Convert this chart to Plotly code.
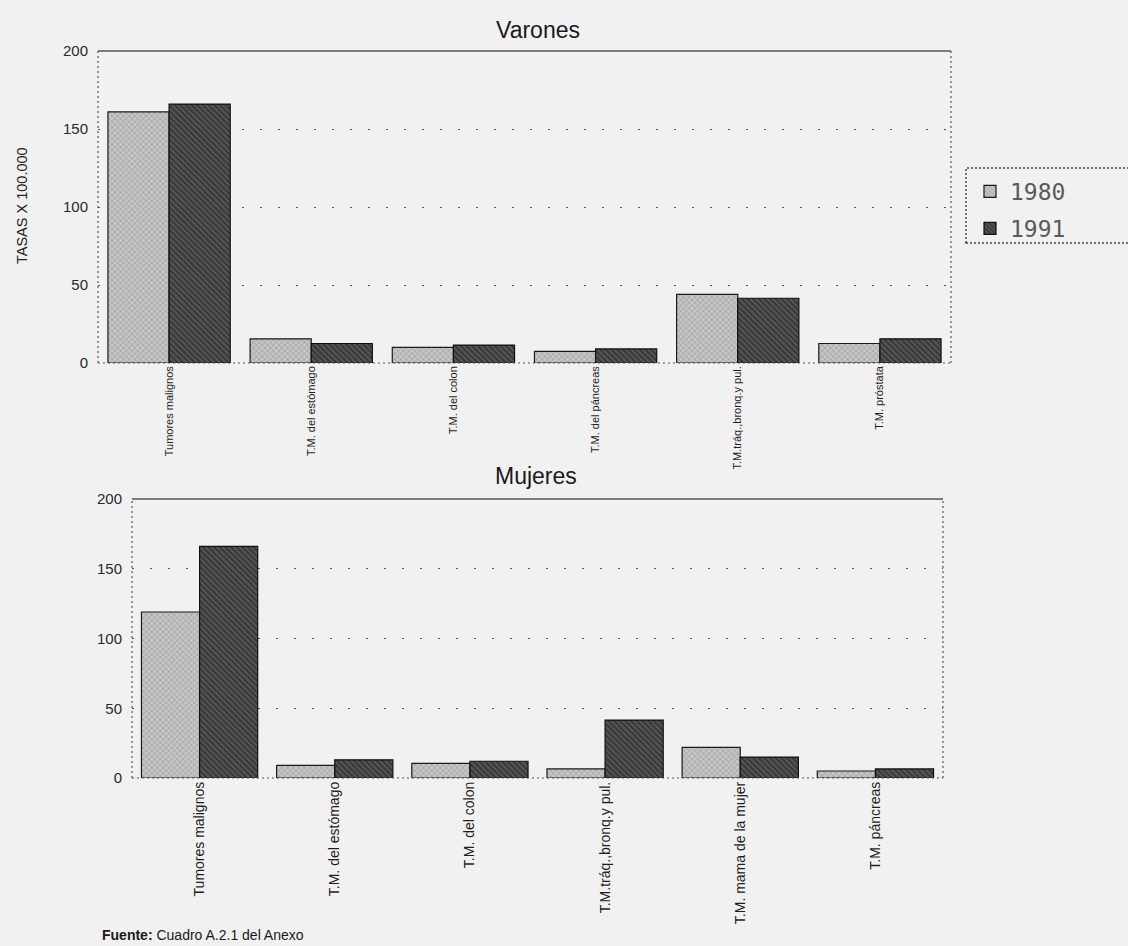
import plotly.graph_objects as go

# ---- data ----
cats_varones = ["Tumores malignos", "T.M. del estómago", "T.M. del colon",
                "T.M. del páncreas", "T.M.tráq.,bronq.y pul.", "T.M. próstata"]
varones_1980 = [161, 15.5, 10, 7.5, 44, 12.5]
varones_1991 = [166, 12.5, 11.5, 9, 41.5, 15.5]

cats_mujeres = ["Tumores malignos", "T.M. del estómago", "T.M. del colon",
                "T.M.tráq.,bronq.y pul.", "T.M. mama de la mujer", "T.M. páncreas"]
mujeres_1980 = [119, 9, 10.5, 6.5, 22, 5]
mujeres_1991 = [166, 13, 12, 41.5, 15, 6.5]

series_names = ["1980", "1991"]
y_ticks = [0, 50, 100, 150, 200]

W, H = 1128, 946
BG = "#f1f1f1"

def px_x(p):
    return p / W

def px_y(p):
    return 1 - p / H

style_1980 = dict(color="#c4c4c4", line=dict(color="#1a1a1a", width=1.2),
                  pattern=dict(shape="x", fgcolor="#5a5a5a", bgcolor="#c6c6c6", size=4, solidity=0.25))
style_1991 = dict(color="#444444", line=dict(color="#111111", width=1.2),
                  pattern=dict(shape="\\", fgcolor="#111111", bgcolor="#555555", size=4, solidity=0.45))

fig = go.Figure()
fig.add_trace(go.Bar(x=cats_varones, y=varones_1980, name=series_names[0], marker=style_1980,
                     xaxis="x", yaxis="y", legendgroup="a"))
fig.add_trace(go.Bar(x=cats_varones, y=varones_1991, name=series_names[1], marker=style_1991,
                     xaxis="x", yaxis="y", legendgroup="b"))
fig.add_trace(go.Bar(x=cats_mujeres, y=mujeres_1980, name=series_names[0], marker=style_1980,
                     xaxis="x2", yaxis="y2", showlegend=False, legendgroup="a"))
fig.add_trace(go.Bar(x=cats_mujeres, y=mujeres_1991, name=series_names[1], marker=style_1991,
                     xaxis="x2", yaxis="y2", showlegend=False, legendgroup="b"))

tickfont_y = dict(family="Liberation Sans", size=15, color="#2a2a2a")
tickfont_x_top = dict(family="Liberation Sans", size=11, color="#1e1e1e")
tickfont_x_bot = dict(family="Liberation Sans", size=14, color="#1e1e1e")

common_x = dict(type="category", showgrid=False, zeroline=False, showline=False,
                tickangle=-90, ticks="", automargin=False, fixedrange=True)
common_y = dict(range=[0, 200], tickvals=y_ticks, showgrid=True, gridcolor="#555555",
                griddash="2px,16px", gridwidth=1, zeroline=False, showline=False,
                tickfont=tickfont_y, ticks="", ticklabelstandoff=9, automargin=False,
                fixedrange=True)

top = dict(x0=98, x1=951, y0=51, y1=363)
bot = dict(x0=132, x1=943, y0=499, y1=778)

fig.update_layout(
    width=W, height=H,
    paper_bgcolor=BG, plot_bgcolor=BG,
    margin=dict(l=0, r=0, t=0, b=0),
    barmode="group", bargap=0.14, bargroupgap=0,
    font=dict(family="Liberation Sans", color="#222222"),
    xaxis=dict(domain=[px_x(top["x0"]), px_x(top["x1"])], anchor="y",
               tickfont=tickfont_x_top, **common_x),
    yaxis=dict(domain=[px_y(top["y1"]), px_y(top["y0"])], anchor="x", **common_y),
    xaxis2=dict(domain=[px_x(bot["x0"]), px_x(bot["x1"])], anchor="y2",
                tickfont=tickfont_x_bot, **common_x),
    yaxis2=dict(domain=[px_y(bot["y1"]), px_y(bot["y0"])], anchor="x2", **common_y),
    legend=dict(x=px_x(970), y=px_y(170), xanchor="left", yanchor="top",
                bgcolor="rgba(0,0,0,0)", borderwidth=0,
                font=dict(family="DejaVu Sans Mono", size=23, color="#5a5a5a"),
                itemwidth=30, tracegroupgap=4),
    showlegend=True,
)

shapes = []
for xr, yr in (("x domain", "y domain"), ("x2 domain", "y2 domain")):
    # solid top border
    shapes.append(dict(type="line", xref=xr, yref=yr, x0=0, x1=1, y0=1, y1=1,
                       line=dict(color="#555555", width=1.5)))
    # dotted left, right, bottom borders
    for (a0, a1, b0, b1) in ((0, 0, 0, 1), (1, 1, 0, 1), (0, 1, 0, 0)):
        shapes.append(dict(type="line", xref=xr, yref=yr, x0=a0, x1=a1, y0=b0, y1=b1,
                           line=dict(color="#555555", width=1.2, dash="2px,3px"), layer="above"))
# legend box (dotted)
shapes.append(dict(type="rect", xref="paper", yref="paper",
                   x0=px_x(966), x1=px_x(1132), y0=px_y(243), y1=px_y(168),
                   line=dict(color="#444444", width=1.5, dash="2px,2px")))
fig.update_layout(shapes=shapes)

annotations = [
    dict(text="Varones", x=px_x(538), y=px_y(30), xref="paper", yref="paper",
         showarrow=False, font=dict(size=23, color="#1a1a1a"), xanchor="center", yanchor="middle"),
    dict(text="Mujeres", x=px_x(536), y=px_y(476), xref="paper", yref="paper",
         showarrow=False, font=dict(size=23, color="#1a1a1a"), xanchor="center", yanchor="middle"),
    dict(text="TASAS X 100.000", x=px_x(22), y=px_y(206), xref="paper", yref="paper",
         showarrow=False, textangle=-90, font=dict(size=14.5, color="#222222"),
         xanchor="center", yanchor="middle"),
    dict(text="<b>Fuente:</b> Cuadro A.2.1 del Anexo", x=px_x(100), y=px_y(935),
         xref="paper", yref="paper", showarrow=False, font=dict(size=14, color="#1a1a1a"),
         xanchor="left", yanchor="middle"),
]
fig.update_layout(annotations=annotations)

fig.write_html("out.html",
               config={"displayModeBar": False},
               post_script="document.body.style.margin='0';document.body.style.padding='0';"
                           "document.body.style.overflow='hidden';")
